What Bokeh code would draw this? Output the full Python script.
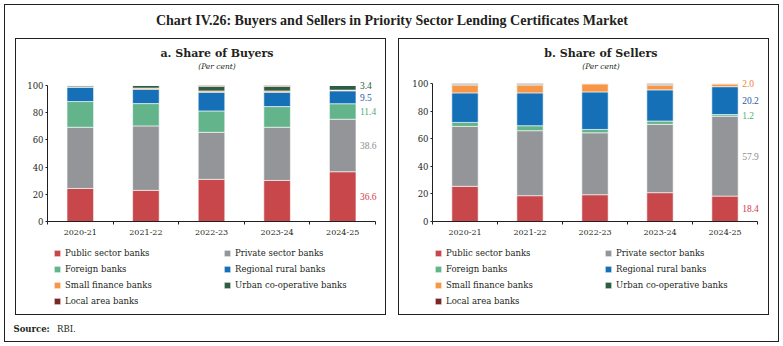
from bokeh.plotting import figure
from bokeh.models import (ColumnDataSource, Legend, LegendItem, Label, LabelSet,
                          FixedTicker, Range1d, Spacer)
from bokeh.layouts import column, row
from bokeh.embed import file_html
from bokeh.resources import INLINE

# ---------------- data ----------------
years = ["2020-21", "2021-22", "2022-23", "2023-24", "2024-25"]
categories = ["Public sector banks", "Private sector banks", "Foreign banks",
              "Regional rural banks", "Small finance banks",
              "Urban co-operative banks", "Local area banks"]

buyers_public  = [24.3, 22.9, 31.0, 30.2, 36.6]
buyers_private = [45.0, 47.4, 34.6, 39.1, 38.6]
buyers_foreign = [18.9, 16.4, 15.7, 15.2, 11.4]
buyers_rrb     = [10.6, 10.6, 13.8, 10.6, 9.5]
buyers_sfb     = [0.3, 0.8, 0.9, 0.9, 0.5]
buyers_ucb     = [0.9, 1.9, 3.3, 3.3, 3.4]
buyers_lab     = [0.0, 0.0, 0.7, 0.7, 0.0]

sellers_public  = [25.5, 18.7, 19.4, 20.9, 18.4]
sellers_private = [43.4, 47.1, 44.9, 49.5, 57.9]
sellers_foreign = [2.9, 3.6, 2.4, 2.4, 1.2]
sellers_rrb     = [21.4, 23.8, 27.2, 22.6, 20.2]
sellers_sfb     = [5.6, 5.6, 5.9, 3.4, 2.0]
sellers_ucb     = [0.6, 0.6, 0.1, 0.6, 0.2]
sellers_lab     = [0.6, 0.6, 0.1, 0.6, 0.1]

y_ticks = [0, 20, 40, 60, 80, 100]

# ---------------- styles ----------------
fill_colors = ["#C8474A", "#939598", "#63B48A", "#1570B8", "#F79646", "#2D5E44", "#7B2527"]
label_colors = ["#D23B4F", "#8C8E91", "#4FAE78", "#1F5B9E", "#F07F35", "#2D5E44", "#7B2527"]
INK = "#231f20"
SERIF = "DejaVu Serif"
TITLE_FONT = "Liberation Serif"


def text_fig(w, h, xr=None, yr=None):
    f = figure(width=w, height=h, x_axis_type=None, y_axis_type=None,
               toolbar_location=None, output_backend="svg", min_border=0,
               x_range=xr or Range1d(0, w), y_range=yr or Range1d(0, h),
               outline_line_color=None, border_fill_color=None,
               background_fill_color=None)
    return f


def bars(p, src, keys, bar_w):
    return p.vbar_stack(keys, x="x", width=bar_w, source=src,
                        fill_color=fill_colors, line_color="white", line_width=0.6)


def make_panel(title, series, labelled, g):
    keys = ["s%d" % i for i in range(len(series))]
    xs = list(range(1, len(years) + 1))
    data = {"x": xs}
    for k, s in zip(keys, series):
        data[k] = s
    src = ColumnDataSource(data)
    bar_w = 0.405

    # head: title + unit
    head = text_fig(g["w"], g["head"])
    head.add_layout(Label(x=g["w"] / 2 + 0.5, y=g["head"] - 15.3, text=title,
                          text_font=SERIF, text_font_style="bold",
                          text_font_size="11px", text_color=INK,
                          text_align="center", text_baseline="middle"))
    head.add_layout(Label(x=g["w"] / 2 + 0.5, y=g["head"] - 27.5, text="(Per cent)",
                          text_font=SERIF, text_font_style="italic",
                          text_font_size="7.5px", text_color=INK,
                          text_align="center", text_baseline="middle"))

    # chart geometry: axis spans [ml, axr] horizontally and [axt, h - mb] vertically
    frame_w = g["w"] - g["ml"] - g["mr"]
    axis_w = g["axr"] - g["ml"]
    frame_h = g["h"] - g["mb"]
    axis_h = frame_h - g["axt"]
    x_end = 0.5 + len(years) * frame_w / axis_w
    y_end = 100.0 * frame_h / axis_h

    p = figure(width=g["w"], height=g["h"], toolbar_location=None,
               output_backend="svg",
               x_range=Range1d(0.5, x_end), y_range=Range1d(0, y_end),
               min_border_left=g["ml"], min_border_right=g["mr"],
               min_border_top=0, min_border_bottom=g["mb"],
               outline_line_color=None, border_fill_color=None,
               background_fill_color=None)
    p.grid.visible = False
    bars(p, src, keys, bar_w)

    xa = p.xaxis[0]
    xa.bounds = (0.5, len(years) + 0.5)
    xa.ticker = FixedTicker(ticks=xs, minor_ticks=[x - 0.5 for x in xs] + [xs[-1] + 0.5])
    xa.major_label_overrides = {x: y for x, y in zip(xs, years)}
    xa.major_tick_out = 0
    xa.major_tick_in = 0
    xa.minor_tick_out = 3
    xa.minor_tick_in = 0
    xa.minor_tick_line_color = INK
    xa.axis_line_color = INK
    xa.major_label_standoff = 5
    xa.major_label_text_font = SERIF
    xa.major_label_text_font_size = "8px"
    xa.major_label_text_color = INK

    ya = p.yaxis[0]
    ya.bounds = (0, 100)
    ya.ticker = FixedTicker(ticks=y_ticks)
    ya.major_tick_out = 2
    ya.major_tick_in = 0
    ya.minor_tick_line_color = None
    ya.major_tick_line_color = INK
    ya.axis_line_color = INK
    ya.major_label_standoff = 2
    ya.major_label_text_font = SERIF
    ya.major_label_text_font_size = "8.5px"
    ya.major_label_text_color = INK

    # value labels for the latest year
    last = [s[-1] for s in series]
    spans = []
    cum = 0.0
    for v in last:
        spans.append((cum, cum + v))
        cum += v
    lx, ly, lt, lc = [], [], [], []
    for j, i in enumerate(labelled):
        lo, hi = spans[i]
        yv = hi if j == len(labelled) - 1 else (lo + hi) / 2
        lx.append(xs[-1] + bar_w / 2)
        ly.append(min(yv, 100))
        lt.append("%.1f" % last[i])
        lc.append(label_colors[i])
    lsrc = ColumnDataSource(dict(x=lx, y=ly, text=lt, color=lc))
    p.add_layout(LabelSet(x="x", y="y", text="text", source=lsrc, x_offset=4,
                          text_color="color", text_font=SERIF, text_font_size="9.5px",
                          text_baseline="middle", text_align="left"))

    # legend strip: same stacked series, kept outside its (empty) view window
    lf = text_fig(g["w"], g["leg_h"], xr=Range1d(50, 51), yr=Range1d(500, 501))
    lrends = bars(lf, src, keys, bar_w)
    legend = Legend(items=[LegendItem(label=c, renderers=[r]) for c, r in zip(categories, lrends)],
                    location=(g["legx"], g["legy"]), orientation="horizontal", ncols=2,
                    glyph_width=8, glyph_height=8, label_standoff=4,
                    label_width=152, label_height=10, spacing=6,
                    padding=0, margin=0, border_line_color=None,
                    background_fill_alpha=0,
                    label_text_font=SERIF, label_text_font_size="8.5px",
                    label_text_color=INK)
    lf.add_layout(legend, "center")

    return column(head, p, lf, width=g["w"], height=g["head"] + g["h"] + g["leg_h"],
                  styles={"outline": "1.2px solid " + INK, "outline-offset": "-1px"})


buyers = [buyers_public, buyers_private, buyers_foreign, buyers_rrb,
          buyers_sfb, buyers_ucb, buyers_lab]
sellers = [sellers_public, sellers_private, sellers_foreign, sellers_rrb,
           sellers_sfb, sellers_ucb, sellers_lab]

left = make_panel("a. Share of Buyers", buyers, [0, 1, 2, 3, 5],
                  dict(w=371, head=38, h=166, ml=32, mr=1, axr=360, axt=9, mb=21,
                       leg_h=73, legx=6, legy=8.7))
right = make_panel("b. Share of Sellers", sellers, [0, 1, 2, 3, 4],
                   dict(w=371, head=38, h=166, ml=34, mr=1, axr=359, axt=7, mb=21,
                        leg_h=73, legx=2, legy=8.7))

top = text_fig(783, 38)
top.add_layout(Label(x=391.5, y=18, text="Chart IV.26: Buyers and Sellers in Priority Sector Lending Certificates Market",
                     text_font=TITLE_FONT, text_font_style="bold", text_font_size="14px",
                     text_color=INK, text_align="center", text_baseline="middle"))

bottom = text_fig(783, 31)
bottom.add_layout(Label(x=13, y=17.7, text="Source:", text_font=SERIF, text_font_style="bold",
                        text_font_size="8.5px", text_color=INK, text_baseline="middle"))
bottom.add_layout(Label(x=56.5, y=17.7, text="RBI.", text_font=SERIF,
                        text_font_size="8.5px", text_color=INK, text_baseline="middle"))

mid = row(Spacer(width=15, height=277), left, Spacer(width=12, height=277), right,
          Spacer(width=14, height=277))
root = column(top, mid, bottom, width=783, height=346,
              styles={"outline": "1.2px solid " + INK, "outline-offset": "-5px"})

open("out.html", "w").write(file_html(root, INLINE))
